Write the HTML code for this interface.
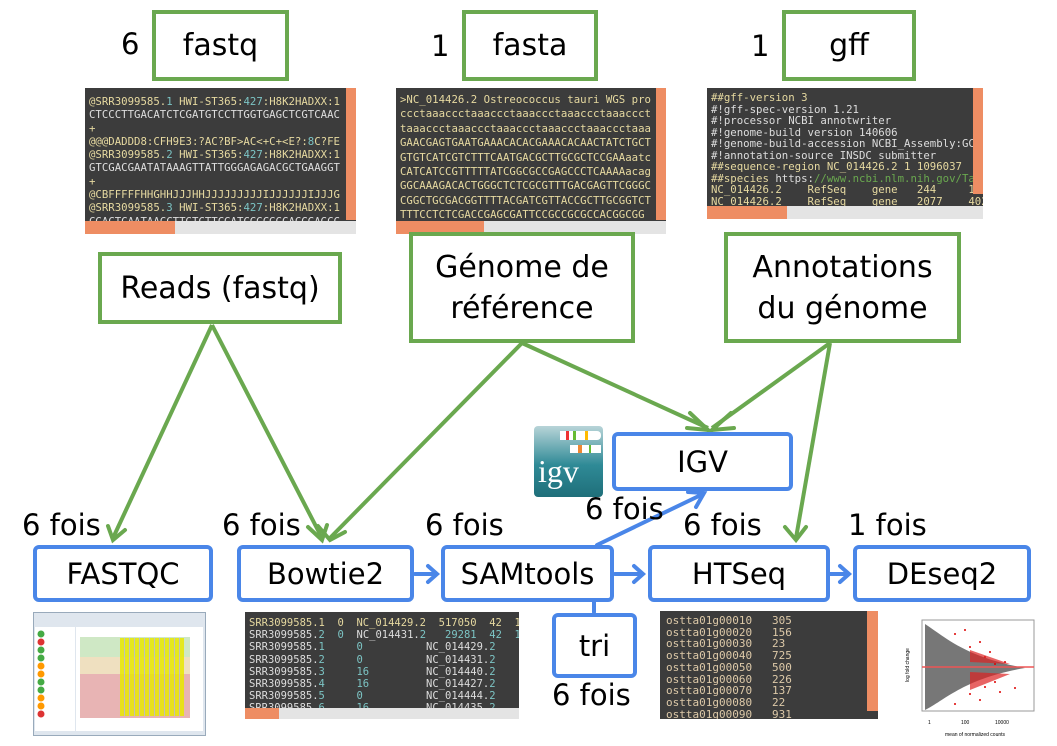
<!DOCTYPE html>
<html><head><meta charset="utf-8"><style>
body{margin:0;width:1057px;height:746px;background:#fff;position:relative;overflow:hidden;font-family:"DejaVu Sans","Liberation Sans",sans-serif;}
.a{position:absolute;}
.g{position:absolute;border:4px solid #6aa84f;box-sizing:border-box;background:#fff;display:flex;align-items:center;justify-content:center;text-align:center;font-size:30px;line-height:41px;color:#000;}
.b{position:absolute;border:4px solid #4a86e8;border-radius:6px;box-sizing:border-box;background:#fff;display:flex;align-items:center;justify-content:center;font-size:29px;color:#000;}
.t{position:absolute;font-size:29px;color:#000;white-space:nowrap;}
.term{position:absolute;background:#3c3c3c;overflow:hidden;font-family:"DejaVu Sans Mono","Liberation Mono",monospace;font-size:10.7px;line-height:14.5px;color:#ddd;white-space:pre;box-sizing:border-box;padding:5px 0 0 4px;}
.y{color:#e6d9a0}.c{color:#7cc4c4}.gr{color:#6aa84f}
.sr{position:absolute;right:0;top:0;width:10px;background:#ee8d63;}
.sb{position:absolute;left:0;bottom:0;height:13px;background:#e4e4e4;right:0;}
.sb i{position:absolute;left:0;top:0;bottom:0;background:#ee8d63;}
</style></head><body>
<svg class="a" style="left:0;top:0" width="1057" height="746">
<g stroke="#6aa84f" stroke-width="4" fill="none">
<path d="M212,325 L113,538"/>
<path d="M212,325 L322,538"/>
<path d="M522,343 L330,538"/>
<path d="M522,343 L708,428"/>
<path d="M830,343 L712,428"/>
<path d="M830,343 L796,538"/>
</g>
<g stroke="#6aa84f" stroke-width="4" fill="none" stroke-linecap="round">
<path d="M108,526 L113,540 L125,530"/>
<path d="M308,527 L322,540 L327,525"/>
<path d="M318,526 L330,540 L345,532"/>
<path d="M690,413 L708,430 L687,428"/>
<path d="M731,413 L712,430 L734,428"/>
<path d="M785,527 L796,540 L806,527"/>
</g>
<g stroke="#4a86e8" stroke-width="4" fill="none" stroke-linecap="round">
<path d="M415,574 L436,574 M428,566 L437,574 L428,582"/>
<path d="M615,574 L642,574 M634,566 L643,574 L634,582"/>
<path d="M830,574 L848,574 M840,566 L849,574 L840,582"/>
<path d="M597,545 L703,494 M688,492 L704,493 L696,507"/>
<path d="M594,602 L594,612"/>
</g>
</svg>

<div class="t" style="left:121px;top:27px">6</div>
<div class="g" style="left:152px;top:10px;width:137px;height:71px">fastq</div>
<div class="t" style="left:431px;top:29px">1</div>
<div class="g" style="left:462px;top:10px;width:136px;height:71px">fasta</div>
<div class="t" style="left:751px;top:29px">1</div>
<div class="g" style="left:782px;top:10px;width:134px;height:71px">gff</div>

<div class="term" style="left:85px;top:88px;width:271px;height:146px;line-height:13.3px;padding-top:7px"><span class="y">@SRR3099585.</span><span class="c">1</span> <span class="y">HWI-ST365:</span><span class="c">427</span><span class="y">:H8K2HADXX:1</span>
CTCCCTTGACATCTCGATGTCCTTGGTGAGCTCGTCAAC
<span class="y">+</span>
<span class="y">@@@DADDD8:CFH9E3:?AC?BF&gt;AC&lt;+C+&lt;E?:</span><span class="c">8</span><span class="y">C?FE</span>
<span class="y">@SRR3099585.</span><span class="c">2</span> <span class="y">HWI-ST365:</span><span class="c">427</span><span class="y">:H8K2HADXX:1</span>
GTCGACGAATATAAAGTTATTGGGAGAGACGCTGAAGGT
<span class="y">+</span>
<span class="y">@CBFFFFFHHGHHJJJHHJJJJJJJJJIJJJJJJIJJJG</span>
<span class="y">@SRR3099585.</span><span class="c">3</span> <span class="y">HWI-ST365:</span><span class="c">427</span><span class="y">:H8K2HADXX:1</span>
CGACTCAATAACCTTGTCTTCGATCGGCGGCACGGAGCC<div class="sr" style="height:132px"></div><div class="sb"><i style="width:90px"></i></div></div>

<div class="term" style="left:396px;top:88px;width:270px;height:146px;color:#e6d9a0;line-height:14.4px;padding-top:5px">&gt;NC_014426.2 Ostreococcus tauri WGS pro
ccctaaaccctaaaccctaaaccctaaaccctaaaccct
taaaccctaaaccctaaaccctaaaccctaaaccctaaa
GAACGAGTGAATGAAACACACGAAACACAACTATCTGCT
GTGTCATCGTCTTTCAATGACGCTTGCGCTCCGAAaatc
CATCATCCGTTTTTATCGGCGCCGAGCCCTCAAAAacag
GGCAAAGACACTGGGCTCTCGCGTTTGACGAGTTCGGGC
CGGCTGCGACGGTTTTACGATCGTTACCGCTTGCGGTCT
TTTCCTCTCGACCGAGCGATTCCGCCGCGCCACGGCGG<div class="sr" style="height:132px"></div><div class="sb"><i style="width:88px"></i></div></div>

<div class="term" style="left:707px;top:88px;width:276px;height:131px;line-height:11.5px;padding-top:4px"><span class="y">##gff-version 3</span>
#!gff-spec-version 1.21
#!processor NCBI annotwriter
#!genome-build version 140606
#!genome-build-accession NCBI_Assembly:GCF_0002
#!annotation-source INSDC submitter
<span class="y">##sequence-region NC_014426.2 1 1096037</span>
<span class="y">##species</span> https:<span class="gr">//www.ncbi.nlm.nih.gov/Taxonomy</span>
<span class="y">NC_014426.2    RefSeq    gene   244     1932</span>
<span class="y">NC_014426.2    RefSeq    gene   2077    4029</span>
<span class="y">NC_014426.2    RefSeq    gene   4157    5299</span><div class="sr" style="height:106px"></div><div class="sb"><i style="width:80px"></i></div></div>

<div class="g" style="left:98px;top:252px;width:244px;height:72px">Reads (fastq)</div>
<div class="g" style="left:409px;top:232px;width:226px;height:111px">Génome de<br>référence</div>
<div class="g" style="left:724px;top:232px;width:237px;height:111px">Annotations<br>du génome</div>

<div class="a" style="left:534px;top:426px;width:69px;height:71px;border-radius:4px;background:linear-gradient(#b8d4d8,#2f8a96 55%,#1f6f7a);"></div>
<div class="a" style="left:560px;top:431px;width:41px;height:9px;background:#fff;border-radius:0 4px 4px 0"></div>
<div class="a" style="left:566px;top:431px;width:3px;height:9px;background:#e33"></div>
<div class="a" style="left:573px;top:431px;width:3px;height:9px;background:#6b3"></div>
<div class="a" style="left:585px;top:431px;width:3px;height:9px;background:#fb0"></div>
<div class="a" style="left:570px;top:445px;width:31px;height:8px;background:#fff"></div>
<div class="a" style="left:578px;top:445px;width:4px;height:8px;background:#e83"></div>
<div class="a" style="left:589px;top:445px;width:2px;height:8px;background:#6b3"></div>
<div class="a" style="left:538px;top:453px;font-size:32px;color:#fff;font-family:'Liberation Serif',serif;">igv</div>
<div class="b" style="left:612px;top:432px;width:181px;height:59px">IGV</div>

<div class="t" style="left:585px;top:492px">6 fois</div>
<div class="t" style="left:22px;top:508px">6 fois</div>
<div class="t" style="left:222px;top:508px">6 fois</div>
<div class="t" style="left:425px;top:508px">6 fois</div>
<div class="t" style="left:683px;top:508px">6 fois</div>
<div class="t" style="left:848px;top:508px">1 fois</div>

<div class="b" style="left:33px;top:545px;width:180px;height:57px">FASTQC</div>
<div class="b" style="left:237px;top:545px;width:177px;height:57px">Bowtie2</div>
<div class="b" style="left:441px;top:545px;width:173px;height:57px">SAMtools</div>
<div class="b" style="left:648px;top:545px;width:182px;height:57px">HTSeq</div>
<div class="b" style="left:853px;top:545px;width:178px;height:57px">DEseq2</div>
<div class="b" style="left:552px;top:613px;width:85px;height:65px">tri</div>
<div class="t" style="left:552px;top:678px">6 fois</div>

<div class="a" style="left:33px;top:612px;width:171px;height:122px;background:#dfe6ee;border:1px solid #9ab"></div>
<div class="a" style="left:35px;top:627px;width:40px;height:104px;background:#fff"></div>
<div class="a" style="left:76px;top:627px;width:127px;height:104px;background:#fff"></div>
<div class="a" style="left:80px;top:637px;width:110px;height:20px;background:#cfe8c5"></div>
<div class="a" style="left:80px;top:657px;width:110px;height:17px;background:#efe0c0"></div>
<div class="a" style="left:80px;top:674px;width:110px;height:44px;background:#e8b4b4"></div>
<div class="a" style="left:120px;top:638px;width:64px;height:78px;background:repeating-linear-gradient(90deg,#e8e800 0 4px,#bbb 4px 5px);opacity:.85"></div>
<svg class="a" style="left:36px;top:630px" width="12" height="100"><g><circle cx="5" cy="4" r="3.5" fill="#4a4"/><circle cx="5" cy="12" r="3.5" fill="#d33"/><circle cx="5" cy="20" r="3.5" fill="#4a4"/><circle cx="5" cy="28" r="3.5" fill="#4a4"/><circle cx="5" cy="36" r="3.5" fill="#f90"/><circle cx="5" cy="44" r="3.5" fill="#f90"/><circle cx="5" cy="52" r="3.5" fill="#4a4"/><circle cx="5" cy="60" r="3.5" fill="#4a4"/><circle cx="5" cy="68" r="3.5" fill="#f90"/><circle cx="5" cy="76" r="3.5" fill="#f90"/><circle cx="5" cy="84" r="3.5" fill="#d33"/></g></svg>

<div class="term" style="left:245px;top:612px;width:274px;height:107px;line-height:12.2px;font-size:10.5px;padding-top:5px"><span class="y">SRR3099585.1  0  NC_014429.2  517050  42  100M  *</span>
SRR3099585.<span class="c">2</span>  <span class="c">0</span>  NC_014431.<span class="c">2</span>   <span class="c">29281  42  100M</span>  *
SRR3099585.<span class="c">1</span>     <span class="c">0</span>          NC_014429.<span class="c">2</span>       <span class="c">517050</span>  4
SRR3099585.<span class="c">2</span>     <span class="c">0</span>          NC_014431.<span class="c">2</span>       <span class="c">29281</span>   4
SRR3099585.<span class="c">3</span>     <span class="c">16</span>         NC_014440.<span class="c">2</span>       <span class="c">89634</span>   4
SRR3099585.<span class="c">4</span>     <span class="c">16</span>         NC_014427.<span class="c">2</span>       <span class="c">869647</span>  4
SRR3099585.<span class="c">5</span>     <span class="c">0</span>          NC_014444.<span class="c">2</span>       <span class="c">80679</span>   4
SRR3099585.<span class="c">6</span>     <span class="c">16</span>         NC_014435.<span class="c">2</span>       <span class="c">136707</span>  4<div class="sb" style="height:11px;background:#e4e4e4"><i style="width:34px"></i></div></div>

<div class="term" style="left:660px;top:611px;width:218px;height:108px;line-height:11.7px;font-size:11px;color:#ddc9a8;padding:4px 0 0 6px">ostta01g00010   305
ostta01g00020   156
ostta01g00030   23
ostta01g00040   725
ostta01g00050   500
ostta01g00060   226
ostta01g00070   137
ostta01g00080   22
ostta01g00090   931<div class="sr" style="height:100px;width:11px"></div></div>

<svg class="a" style="left:895px;top:612px" width="150" height="134">
<rect x="27" y="8" width="112" height="91" fill="#fff" stroke="#999"/>
<path d="M30,12 C50,25 70,45 130,56 C70,66 50,88 30,98 Z" fill="#555" opacity=".8"/>
<g fill="#d00">
<circle cx="60" cy="22" r="1"/><circle cx="75" cy="35" r="1"/><circle cx="90" cy="45" r="1"/><circle cx="100" cy="52" r="1"/><circle cx="85" cy="30" r="1"/><circle cx="70" cy="18" r="1"/><circle cx="95" cy="40" r="1"/><circle cx="110" cy="50" r="1"/>
<circle cx="60" cy="92" r="1"/><circle cx="75" cy="82" r="1"/><circle cx="90" cy="75" r="1"/><circle cx="100" cy="70" r="1"/><circle cx="85" cy="88" r="1"/><circle cx="105" cy="80" r="1"/><circle cx="120" cy="76" r="1"/>
</g>
<path d="M75,38 L115,52 L75,50Z M75,60 L115,62 L75,78Z" fill="#d22" opacity=".7"/>
<line x1="27" y1="55" x2="139" y2="55" stroke="#e55" stroke-width="1.5"/>
<text x="33" y="112" font-size="5" font-family="Liberation Sans">1</text><text x="66" y="112" font-size="5" font-family="Liberation Sans">100</text><text x="100" y="112" font-size="5" font-family="Liberation Sans">10000</text>
<text x="50" y="124" font-size="5" font-family="Liberation Sans">mean of normalized counts</text>
<text x="14" y="70" font-size="5" font-family="Liberation Sans" transform="rotate(-90 14 70)">log fold change</text>
</svg>
</body></html>
